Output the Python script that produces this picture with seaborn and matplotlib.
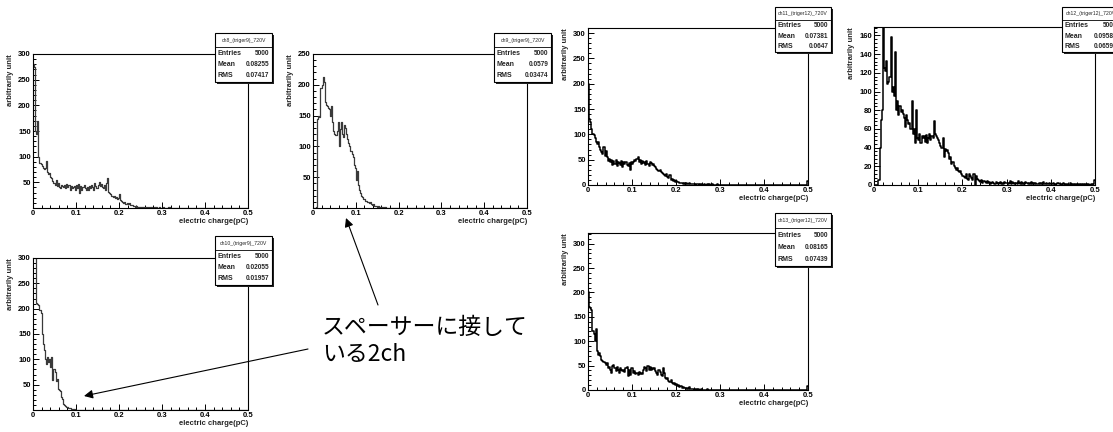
import numpy as np
import pandas as pd
import matplotlib
matplotlib.use("Agg")
import matplotlib.pyplot as plt
import seaborn as sns
from matplotlib.patches import Rectangle, FancyArrowPatch
from matplotlib.ticker import MultipleLocator, FixedLocator

sns.set_theme(style="white")
plt.rcParams['font.family'] = ['Liberation Sans', 'DejaVu Sans']

W, H = 1113, 432

# ---------------- data (200 bins of 0.0025 pC over 0..0.5) ----------------
ch8 = [280, 275, 150, 145, 170, 100, 88, 85, 82, 78,
       75, 78, 92, 70, 66, 68, 60, 58, 52, 48,
       45, 55, 42, 48, 40, 38, 45, 42, 40, 44,
       38, 46, 40, 44, 36, 42, 38, 40, 43, 35,
       44, 38, 46, 30, 42, 36, 40, 44, 38, 35,
       40, 36, 42, 38, 44, 40, 36, 48, 42, 38,
       45, 50, 42, 46, 40, 38, 44, 36, 48, 58,
       32, 30, 28, 24, 22, 24, 20, 22, 18, 20,
       28, 16, 14, 12, 10, 11, 8, 9, 7, 10,
       6, 5, 5, 3, 4, 2, 3, 2, 1, 2,
       1, 2, 1, 0, 1, 1, 0, 2, 0, 1,
       1, 0, 0, 2, 1, 0, 0, 1, 0, 0,
       0, 1, 0, 0, 0, 0, 1, 0, 0, 0,
       0, 0, 0, 0, 0, 0, 0, 0, 0, 0,
       0, 0, 0, 0, 0, 0, 0, 0, 0, 0,
       0, 0, 0, 0, 0, 0, 0, 0, 0, 0,
       0, 0, 0, 0, 0, 0, 0, 0, 0, 0,
       0, 0, 0, 0, 0, 0, 0, 0, 0, 0,
       0, 0, 0, 0, 0, 0, 0, 0, 0, 0,
       0, 0, 0, 0, 0, 0, 0, 0, 0, 0]

ch9 = [0, 0, 0, 2, 145, 150, 148, 195, 200, 212,
       205, 172, 168, 165, 162, 160, 150, 165, 140, 125,
       120, 118, 125, 140, 100, 128, 140, 120, 115, 135,
       130, 120, 112, 105, 100, 92, 88, 82, 70, 65,
       45, 60, 38, 30, 25, 20, 18, 15, 14, 12,
       10, 10, 8, 9, 6, 5, 6, 4, 3, 4,
       2, 3, 1, 2, 1, 0, 1, 1, 0, 0,
       0, 0, 0, 0, 0, 0, 0, 0, 0, 0,
       0, 0, 0, 0, 0, 0, 0, 0, 0, 0,
       0, 0, 0, 0, 0, 0, 0, 0, 0, 0,
       0, 0, 0, 0, 0, 0, 0, 0, 0, 0,
       0, 0, 0, 0, 0, 0, 0, 0, 0, 0,
       0, 0, 0, 0, 0, 0, 0, 0, 0, 0,
       0, 0, 0, 0, 0, 0, 0, 0, 0, 0,
       0, 0, 0, 0, 0, 0, 0, 0, 0, 0,
       0, 0, 0, 0, 0, 0, 0, 0, 0, 0,
       0, 0, 0, 0, 0, 0, 0, 0, 0, 0,
       0, 0, 0, 0, 0, 0, 0, 0, 0, 0,
       0, 0, 0, 0, 0, 0, 0, 0, 0, 0,
       0, 0, 0, 0, 0, 0, 0, 0, 0, 0]

ch10 = [520, 380, 300, 212, 210, 208, 198, 192, 150, 130,
        118, 100, 90, 105, 95, 100, 85, 105, 60, 80,
        75, 58, 62, 42, 40, 38, 25, 22, 12, 10,
        8, 6, 5, 4, 3, 2, 2, 1, 1, 0,
        0, 0, 0, 0, 0, 0, 0, 0, 0, 0,
        0, 0, 0, 0, 0, 0, 0, 0, 0, 0,
        0, 0, 0, 0, 0, 0, 0, 0, 0, 0,
        0, 0, 0, 0, 0, 0, 0, 0, 0, 0,
        0, 0, 0, 0, 0, 0, 0, 0, 0, 0,
        0, 0, 0, 0, 0, 0, 0, 0, 0, 0,
        0, 0, 0, 0, 0, 0, 0, 0, 0, 0,
        0, 0, 0, 0, 0, 0, 0, 0, 0, 0,
        0, 0, 0, 0, 0, 0, 0, 0, 0, 0,
        0, 0, 0, 0, 0, 0, 0, 0, 0, 0,
        0, 0, 0, 0, 0, 0, 0, 0, 0, 0,
        0, 0, 0, 0, 0, 0, 0, 0, 0, 0,
        0, 0, 0, 0, 0, 0, 0, 0, 0, 0,
        0, 0, 0, 0, 0, 0, 0, 0, 0, 0,
        0, 0, 0, 0, 0, 0, 0, 0, 0, 0,
        0, 0, 0, 0, 0, 0, 0, 0, 0, 0]

ch11 = [200, 130, 125, 110, 100, 98, 92, 85, 80, 84,
        75, 70, 65, 62, 75, 58, 68, 55, 48, 52,
        45, 50, 40, 48, 42, 50, 38, 46, 44, 40,
        48, 36, 45, 42, 46, 40, 38, 44, 30, 46,
        42, 45, 50, 48, 52, 55, 46, 50, 42, 48,
        44, 46, 40, 48, 42, 38, 45, 44, 40, 42,
        38, 35, 32, 30, 28, 30, 26, 24, 22, 20,
        18, 22, 16, 14, 20, 10, 12, 8, 9, 6,
        7, 5, 6, 4, 3, 4, 2, 3, 2, 3,
        2, 1, 3, 1, 2, 1, 2, 0, 1, 1,
        1, 0, 2, 1, 0, 1, 0, 0, 1, 0,
        1, 0, 0, 1, 0, 0, 0, 1, 0, 0,
        0, 0, 0, 0, 0, 0, 0, 0, 0, 0,
        0, 0, 0, 0, 0, 0, 0, 0, 0, 0,
        0, 0, 0, 0, 0, 0, 0, 0, 0, 0,
        0, 0, 0, 0, 0, 0, 0, 0, 0, 0,
        0, 0, 0, 0, 0, 0, 0, 0, 0, 0,
        0, 0, 0, 0, 0, 0, 0, 0, 0, 0,
        0, 0, 0, 0, 0, 0, 0, 0, 0, 0,
        0, 0, 0, 0, 0, 0, 0, 0, 0, 8]

ch12 = [0, 0, 0, 0, 5, 40, 70, 80, 168, 125,
        122, 133, 108, 110, 115, 158, 100, 105, 95, 142,
        80, 90, 75, 85, 78, 80, 76, 72, 62, 75,
        70, 65, 66, 60, 90, 55, 60, 45, 80, 50,
        48, 55, 45, 52, 50, 52, 46, 54, 45, 50,
        55, 48, 52, 50, 68, 55, 52, 50, 48, 45,
        42, 40, 50, 30, 38, 36, 37, 34, 28, 30,
        22, 25, 20, 18, 16, 18, 15, 14, 15, 12,
        10, 9, 8, 12, 6, 5, 12, 10, 8, 5,
        12, 0, 10, 6, 5, 4, 3, 5, 2, 4,
        3, 2, 4, 2, 3, 1, 2, 3, 2, 1,
        3, 2, 1, 2, 3, 1, 2, 1, 3, 2,
        2, 1, 2, 4, 1, 3, 2, 1, 2, 1,
        4, 2, 1, 3, 1, 2, 1, 3, 2, 1,
        2, 1, 3, 1, 2, 1, 2, 1, 1, 2,
        1, 2, 1, 3, 1, 1, 2, 1, 2, 1,
        1, 1, 2, 1, 0, 1, 2, 1, 1, 0,
        1, 2, 1, 0, 1, 1, 0, 2, 1, 0,
        1, 0, 1, 1, 0, 1, 0, 1, 0, 1,
        0, 1, 1, 0, 1, 0, 1, 0, 1, 5]

ch13 = [200, 170, 168, 165, 120, 115, 100, 125, 80, 72,
        75, 70, 62, 60, 58, 55, 52, 55, 45, 48,
        40, 35, 50, 52, 45, 38, 48, 42, 35, 45,
        40, 38, 42, 36, 45, 48, 28, 42, 30, 46,
        45, 35, 38, 32, 34, 30, 36, 33, 35, 32,
        40, 48, 45, 38, 50, 42, 48, 40, 46, 44,
        45, 38, 35, 30, 40, 36, 30, 28, 45, 35,
        25, 22, 24, 18, 16, 20, 15, 12, 14, 10,
        12, 8, 10, 7, 8, 5, 6, 4, 5, 3,
        4, 3, 6, 2, 3, 2, 1, 3, 2, 1,
        2, 1, 1, 2, 0, 1, 1, 0, 2, 1,
        0, 1, 0, 1, 0, 0, 1, 0, 0, 1,
        0, 0, 1, 0, 1, 0, 0, 0, 1, 0,
        0, 0, 0, 0, 0, 0, 0, 0, 0, 0,
        0, 0, 0, 0, 0, 0, 0, 0, 0, 0,
        0, 0, 0, 0, 0, 0, 0, 0, 0, 0,
        0, 0, 0, 0, 0, 0, 0, 0, 0, 0,
        0, 0, 0, 0, 0, 0, 0, 0, 0, 0,
        0, 0, 0, 0, 0, 0, 0, 0, 0, 0,
        0, 0, 0, 0, 0, 0, 0, 0, 0, 8]

titles = ["ch8_(triger9)_720V", "ch9_(triger9)_720V", "ch10_(triger9)_720V",
          "ch11_(triger12)_720V", "ch12_(triger12)_720V", "ch13_(triger12)_720V"]
entries = ["5000", "5000", "5000", "5000", "5000", "5000"]
means = ["0.08255", "0.0579", "0.02055", "0.07381", "0.09585", "0.08165"]
rmss = ["0.07417", "0.03474", "0.01957", "0.0647", "0.06594", "0.07439"]

x_ticks = [0, 0.1, 0.2, 0.3, 0.4, 0.5]
x_ticklabels = ["0", "0.1", "0.2", "0.3", "0.4", "0.5"]
y_ticks = [[50, 100, 150, 200, 250, 300],
           [50, 100, 150, 200, 250],
           [50, 100, 150, 200, 250, 300],
           [0, 50, 100, 150, 200, 250, 300],
           [0, 20, 40, 60, 80, 100, 120, 140, 160],
           [0, 50, 100, 150, 200, 250, 300]]
y_max = [300, 250, 300, 310, 169, 322]
y_minor = [10, 10, 10, 10, 4, 10]

xlabel = "electric charge(pC)"
ylabel = "arbitrarily unit"
note_line1 = "スペーサーに接して"
note_line2 = "いる2ch"

series = [ch8, ch9, ch10, ch11, ch12, ch13]

# ---------------- layout (pixels, y from top) ----------------
axes_px = [(33, 54, 248, 208), (313, 54, 527, 208), (33, 258, 248, 410),
           (588, 28, 808, 185), (874, 27, 1095, 185), (588, 233, 808, 390)]
box_px = [(215, 33, 272, 82), (494, 33, 551, 82), (215, 236, 272, 285),
          (775, 7, 831, 52), (1062, 7, 1120, 52), (775, 213, 831, 266)]
line_style = [('#3a3a3a', 0.9)] * 3 + [('black', 1.1)] * 3

BIN_W = 0.0025
centers = (np.arange(200) + 0.5) * BIN_W

fig = plt.figure(figsize=(W / 100, H / 100), dpi=100)
fig.patch.set_facecolor('white')


def frac(x0, y0, x1, y1):
    return [x0 / W, 1 - y1 / H, (x1 - x0) / W, (y1 - y0) / H]


for i, vals in enumerate(series):
    ax = fig.add_axes(frac(*axes_px[i]))
    ax.set_facecolor('white')
    df = pd.DataFrame({"charge": centers, "count": np.asarray(vals, dtype=float)})
    col, lw = line_style[i]
    sns.histplot(data=df, x="charge", weights="count", binwidth=BIN_W,
                 binrange=(0.0, 0.5), element="step", fill=False,
                 color=col, linewidth=lw, ax=ax)
    ax.set_xlim(0, 0.5)
    ax.set_ylim(0, y_max[i])
    ax.xaxis.set_major_locator(FixedLocator(x_ticks))
    ax.set_xticklabels(x_ticklabels)
    ax.xaxis.set_minor_locator(MultipleLocator(0.02))
    ax.yaxis.set_major_locator(FixedLocator(y_ticks[i]))
    ax.set_yticklabels([str(v) for v in y_ticks[i]])
    ax.yaxis.set_minor_locator(MultipleLocator(y_minor[i]))
    ax.tick_params(which='both', direction='in', bottom=True, left=True,
                   top=False, right=False, colors='black', width=0.7)
    ax.tick_params(which='major', length=4, labelsize=5.5, pad=1.5)
    ax.tick_params(which='minor', length=2)
    for lab in ax.get_xticklabels() + ax.get_yticklabels():
        lab.set_fontweight('bold')
    for sp in ax.spines.values():
        sp.set_visible(True)
        sp.set_color('black')
        sp.set_linewidth(0.8)
    ax.set_xlabel(xlabel, loc='right', fontsize=5.5, fontweight='bold', labelpad=1)
    ax.set_ylabel(ylabel, loc='top', fontsize=5.5, fontweight='bold', labelpad=3)

    # stats box
    bx0, by0, bx1, by1 = box_px[i]
    bax = fig.add_axes(frac(bx0, by0, bx1, by1))
    bax.set_xlim(0, 1)
    bax.set_ylim(0, 1)
    bax.axis('off')
    sx = 1.5 / (bx1 - bx0)
    sy = 1.5 / (by1 - by0)
    bax.add_patch(Rectangle((sx, -sy), 1, 1, facecolor='#222222', edgecolor='none',
                            clip_on=False, zorder=1))
    bax.add_patch(Rectangle((0, 0), 1, 1, facecolor='white', edgecolor='black',
                            lw=0.8, clip_on=False, zorder=2))
    bax.plot([0, 1], [0.71, 0.71], color='black', lw=0.6, zorder=3, clip_on=False)
    bax.text(0.5, 0.855, titles[i], ha='center', va='center', fontsize=3.7,
             zorder=4)
    rows = [("Entries", entries[i]), ("Mean", means[i]), ("RMS", rmss[i])]
    for k, (lab, val) in enumerate(rows):
        yy = 0.58 - k * 0.225
        bax.text(0.05, yy, lab, ha='left', va='center', fontsize=5.0,
                 fontweight='bold', zorder=4)
        bax.text(0.95, yy, val, ha='right', va='center', fontsize=4.7,
                 fontweight='bold', zorder=4)

# annotation
cjk = ['Noto Sans CJK JP', 'DejaVu Sans']
fig.text(322 / W, 1 - 327 / H, note_line1, ha='left', va='center',
         fontsize=16.5, family=cjk, color='black')
fig.text(322 / W, 1 - 355 / H, note_line2, ha='left', va='center',
         fontsize=16.5, family=cjk, color='black')


def arrow(x0, y0, x1, y1):
    a = FancyArrowPatch((x0 / W, 1 - y0 / H), (x1 / W, 1 - y1 / H),
                        transform=fig.transFigure, arrowstyle='-|>',
                        mutation_scale=13, lw=0.8, color='black',
                        shrinkA=0, shrinkB=0)
    fig.add_artist(a)


arrow(378, 305, 346, 218)
arrow(308, 349, 84, 396)

fig.savefig("out.png", dpi=100, facecolor='white')
